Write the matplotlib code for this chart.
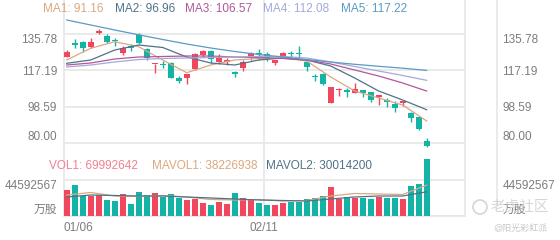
import numpy as np
import matplotlib.pyplot as plt
from matplotlib.lines import Line2D
from matplotlib.patches import Circle

plt.rcParams['font.family'] = ['Liberation Sans', 'Noto Sans CJK SC', 'DejaVu Sans']

#------------------------------------ data ------------------------------------

opens = [124.28, 130.80, 131.67, 129.41, 136.29, 134.91, 132.60, 126.33, 129.00, 135.42,
         128.08, 120.40, 120.10, 120.89, 113.49, 113.49, 117.80, 125.15, 127.36, 121.71,
         121.60, 115.90, 118.32, 123.76, 125.80, 125.66, 120.89, 124.63, 125.60, 125.60,
         121.71, 113.80, 115.24, 100.34, 107.00, 106.40, 105.79, 107.17, 105.99, 103.60,
         101.30, 99.98, 100.50, 95.51, 93.15, 80.62]
closes = [126.84, 130.50, 128.59, 131.98, 137.63, 131.98, 132.30, 128.59, 128.80, 131.16,
          123.76, 120.60, 119.90, 113.49, 111.80, 115.39, 125.51, 127.20, 122.94, 123.45,
          121.80, 115.60, 121.71, 126.33, 125.50, 122.94, 122.58, 126.33, 125.40, 125.40,
          119.14, 113.60, 110.10, 108.87, 107.20, 106.20, 107.53, 105.79, 102.04, 103.80,
          101.00, 97.77, 100.70, 92.64, 86.99, 78.05]
highs = [127.50, 133.21, 132.49, 133.73, 138.35, 135.78, 134.03, 129.77, 130.64, 136.60,
         128.59, 120.70, 122.22, 121.71, 114.36, 115.39, 126.02, 127.72, 127.72, 125.51,
         123.45, 116.92, 122.58, 126.84, 128.08, 126.84, 122.58, 126.84, 127.36, 129.77,
         122.58, 115.24, 115.75, 108.87, 108.05, 108.05, 110.92, 107.17, 106.30, 104.09,
         102.91, 101.52, 100.70, 96.03, 93.46, 82.37]
lows = [123.90, 128.59, 126.84, 128.59, 135.78, 131.47, 129.77, 125.15, 127.36, 130.80,
        122.58, 116.06, 118.32, 113.18, 110.61, 110.25, 117.45, 124.28, 120.89, 120.37,
        120.01, 114.00, 117.09, 122.58, 122.58, 122.22, 119.86, 124.28, 124.28, 124.28,
        117.09, 111.95, 109.74, 100.34, 104.25, 103.73, 105.79, 103.42, 101.16, 99.47,
        98.60, 96.03, 98.95, 90.89, 86.60, 77.74]
volumes = [32200000, 38400000, 24400000, 24800000, 26000000, 19800000, 18600000, 27000000,
           14600000, 29400000, 26000000, 28900000, 23300000, 27300000, 22000000, 19400000,
           20700000, 15700000, 14200000, 17100000, 15100000, 28500000, 21900000, 19800000,
           16500000, 14200000, 13600000, 15700000, 17700000, 17700000, 20700000, 21900000,
           24800000, 35600000, 20700000, 23200000, 21900000, 21900000, 20700000, 23900000,
           21900000, 21900000, 20700000, 37500000, 39300000, 69992642]

# moving averages every third session
ma_idx = list(range(0, 46, 3))
ma1 = [122.56, 128.58, 131.97, 129.40, 122.56, 116.02, 119.98, 122.56, 123.33, 123.58,
       122.04, 113.81, 106.60, 103.00, 99.40, 91.16]
ma2 = [120.86, 122.56, 127.70, 130.27, 128.99, 124.10, 121.01, 119.98, 122.56, 123.58,
       122.56, 119.47, 113.29, 106.60, 101.97, 96.96]
ma3 = [119.98, 121.01, 123.07, 124.10, 124.36, 124.61, 124.61, 124.10, 123.84, 123.33,
       122.56, 120.50, 117.41, 114.32, 110.72, 106.57]
ma4 = [118.95, 119.98, 121.53, 122.81, 123.33, 123.58, 123.84, 124.10, 124.36, 124.36,
       123.58, 121.53, 119.21, 116.89, 114.58, 112.08]
ma5 = [143.14, 140.57, 137.99, 135.52, 133.10, 130.79, 128.73, 126.93, 125.39, 124.10,
       122.81, 121.53, 120.34, 119.31, 118.34, 117.22]
mavol1 = [26.01, 29.11, 24.77, 24.15, 25.39, 23.54, 20.44, 19.82, 20.44, 18.58,
          19.20, 24.77, 27.87, 27.25, 26.63, 38.23]
mavol2 = [23.54, 26.01, 25.39, 24.77, 24.77, 23.54, 22.30, 21.06, 19.82, 19.20,
          18.58, 21.06, 23.54, 24.77, 24.77, 30.01]

price_ticks = [80.00, 98.59, 117.19, 135.78]
vol_ticks = [0, 44592567]
vol_tick_labels = ['万股', '44592567']
date_pos = [-0.34, 24.7]
date_labels = ['01/06', '02/11']

ma_names = ['MA1', 'MA2', 'MA3', 'MA4', 'MA5']
vol_names = ['VOL1', 'MAVOL1', 'MAVOL2']

#----------------------------------- styles -----------------------------------

RED = '#f0475f'
TEAL = '#13b3a6'
GRID = '#e6e6e6'
LABEL = '#7c7c7c'
ma_colors = ['#dba77f', '#4f7288', '#b0589a', '#a4a9d9', '#5a9ac4']
vol_colors = ['#f27f8e', '#dba77f', '#4f7288']
FS = 8.5

W, H = 560, 240


def box(l, t, r, b):
    return [l / W, 1 - b / H, (r - l) / W, (b - t) / H]


fig = plt.figure(figsize=(5.6, 2.4), dpi=100)
ax = fig.add_axes(box(64, 0, 465, 150))
axv = fig.add_axes(box(64, 150, 465, 216))

x = np.arange(len(opens))
o = np.array(opens)
c = np.array(closes)
up = c >= o
cols = np.where(up, RED, TEAL)

#---------------------------------- candles -----------------------------------

ax.vlines(x, lows, highs, colors=cols, linewidth=1.0, zorder=2)
body = np.maximum(np.abs(c - o), 0.8)
ax.bar(x, body, bottom=np.minimum(o, c), width=0.72, color=cols, zorder=3)

for vals, col in zip([ma1, ma2, ma3, ma4, ma5], ma_colors):
    ax.plot(ma_idx, vals, color=col, lw=0.9, zorder=4)

ax.set_xlim(-0.34, 49.79)
ax.set_ylim(76.24, 153.43)
ax.set_xticks([])
ax.set_yticks(price_ticks)
ax.set_yticklabels(['%.2f' % t for t in price_ticks])
ax.grid(axis='y', color=GRID, lw=1.2)
ax.axvline(24.7, color=GRID, lw=1.2, zorder=0)
ax.set_axisbelow(True)

#---------------------------------- volumes -----------------------------------

axv.bar(x, volumes, width=0.75, color=cols, zorder=3)
axv.plot(ma_idx, np.array(mavol1) * 1e6, color=vol_colors[1], lw=0.9, zorder=4)
axv.plot(ma_idx, np.array(mavol2) * 1e6, color=vol_colors[2], lw=0.9, zorder=4)
axv.set_xlim(-0.34, 49.79)
axv.set_ylim(0, 81753000)
axv.set_yticks(vol_ticks)
axv.set_yticklabels(vol_tick_labels)
axv.grid(axis='y', color=GRID, lw=1.2)
axv.axvline(24.7, color=GRID, lw=1.2, zorder=0)
axv.set_axisbelow(True)
axv.set_xticks(date_pos)
axv.set_xticklabels(date_labels)
axv.get_xticklabels()[0].set_ha('left')
axv.tick_params(axis='x', length=0, pad=4, labelsize=FS, labelcolor=LABEL)

#------------------------------- axes cosmetics --------------------------------

for a in (ax, axv):
    for s in ('top', 'bottom'):
        a.spines[s].set_visible(False)
    for s in ('left', 'right'):
        a.spines[s].set_color(GRID)
        a.spines[s].set_linewidth(1.2)
    a.tick_params(axis='y', length=0, pad=5, labelsize=FS, labelcolor=LABEL)
axv.spines['bottom'].set_visible(True)
axv.spines['bottom'].set_color(GRID)
axv.spines['bottom'].set_linewidth(1.2)

twins = []
for a, ticks, labels in ((ax, price_ticks, ['%.2f' % t for t in price_ticks]),
                         (axv, vol_ticks, vol_tick_labels)):
    t = a.twinx()
    t.set_ylim(a.get_ylim())
    t.set_yticks(ticks)
    t.set_yticklabels(labels)
    t.tick_params(axis='y', length=0, pad=27, labelsize=FS, labelcolor=LABEL)
    for s in t.spines.values():
        s.set_visible(False)
    twins.append(t)

for a in (ax, twins[0], axv, twins[1]):
    lbls = a.get_yticklabels()
    lbls[0].set_va('bottom')
    lbls[-1].set_va('top')

fig.add_artist(Line2D([497 / W, 497 / W], [1, 1 - 205 / H], color=GRID, lw=1.2))

#---------------------------------- legends -----------------------------------

ma_last = [ma1[-1], ma2[-1], ma3[-1], ma4[-1], ma5[-1]]
ma_x = [43, 115, 185, 263, 341]
for name, val, col, px in zip(ma_names, ma_last, ma_colors, ma_x):
    fig.text(px / W, 1 - 9.5 / H, '%s: %.2f' % (name, val), color=col,
             fontsize=FS, va='center')

vol_last = [volumes[-1], 38226938, 30014200]
vol_x = [49, 152, 266]
for name, val, col, px in zip(vol_names, vol_last, vol_colors, vol_x):
    fig.text(px / W, 1 - 166 / H, '%s: %d' % (name, val), color=col,
             fontsize=FS, va='center')

# watermark
fig.add_artist(Circle((4.80, 2.4 - 2.07), 0.07, transform=fig.dpi_scale_trans,
                      fill=False, ec='#d6d6d6', lw=1.2))
fig.text(520 / W, 1 - 207 / H, '老虎社区', color='#d2d2d2', fontsize=10.5,
         ha='center', va='center', alpha=0.9)
fig.text(520 / W, 1 - 228 / H, '@阳光彩虹派', color='#c8c8c8', fontsize=6.5,
         ha='center', va='center')

fig.savefig('out.png', dpi=100)
